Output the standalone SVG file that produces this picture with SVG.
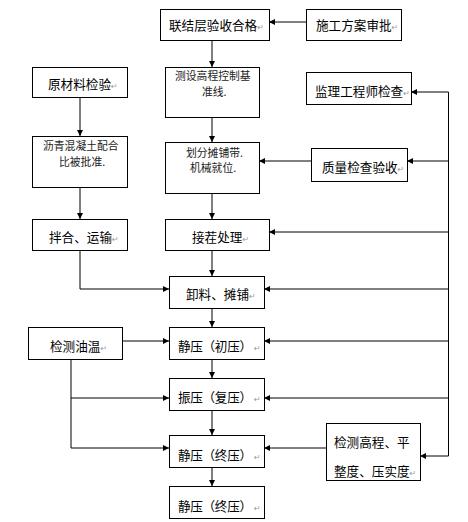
<svg xmlns="http://www.w3.org/2000/svg" width="468" height="522" viewBox="0 0 468 522">
<style>
.box{fill:#fff;stroke:#000;stroke-width:1}
.t{font-family:"Noto Sans CJK SC","Liberation Sans",sans-serif;font-size:12.6px;fill:#000}
.s{font-family:"Noto Sans CJK SC","Liberation Sans",sans-serif;font-size:10.8px;fill:#222}
.pm{font-family:"DejaVu Sans",sans-serif;font-size:8px;fill:#999}
.c{fill:none;stroke:#000;stroke-width:1}
</style>
<defs>
<marker id="ah" markerUnits="userSpaceOnUse" markerWidth="7" markerHeight="6" refX="6" refY="3" orient="auto">
<path d="M0,0 L6,3 L0,6 z" fill="#000"/>
</marker>
</defs>
<rect width="468" height="522" fill="#fff"/>
<g id="connectors">
<path class="c" d="M306,22 L269,22" marker-end="url(#ah)"/>
<path class="c" d="M212,40 L212,67" marker-end="url(#ah)"/>
<path class="c" d="M212,117 L212,142" marker-end="url(#ah)"/>
<path class="c" d="M212,193 L212,219" marker-end="url(#ah)"/>
<path class="c" d="M212,250 L212,276" marker-end="url(#ah)"/>
<path class="c" d="M212,308 L212,327" marker-end="url(#ah)"/>
<path class="c" d="M212,359 L212,378" marker-end="url(#ah)"/>
<path class="c" d="M212,410 L212,435" marker-end="url(#ah)"/>
<path class="c" d="M212,467 L212,486" marker-end="url(#ah)"/>
<path class="c" d="M80,97 L80,136" marker-end="url(#ah)"/>
<path class="c" d="M80,187 L80,219" marker-end="url(#ah)"/>
<path class="c" d="M80,250 L80,289 L169,289" marker-end="url(#ah)"/>
<path class="c" d="M122,341 L169,341" marker-end="url(#ah)"/>
<path class="c" d="M71,359 L71,448 L169,448" marker-end="url(#ah)"/>
<path class="c" d="M71,398 L169,398" marker-end="url(#ah)"/>
<path class="c" d="M448.5,92 L411,92" marker-end="url(#ah)"/>
<path class="c" d="M448.5,92 L448.5,456 L420,456" marker-end="url(#ah)"/>
<path class="c" d="M448.5,161 L407,161" marker-end="url(#ah)"/>
<path class="c" d="M311,161 L259,161" marker-end="url(#ah)"/>
<path class="c" d="M448.5,232 L269,232" marker-end="url(#ah)"/>
<path class="c" d="M448.5,289 L264,289" marker-end="url(#ah)"/>
<path class="c" d="M448.5,341 L264,341" marker-end="url(#ah)"/>
<path class="c" d="M448.5,398 L264,398" marker-end="url(#ah)"/>
<path class="c" d="M326,448 L264,448" marker-end="url(#ah)"/>
</g>
<g id="n1"><rect class="box" x="160.5" y="9.5" width="109" height="31"/><text class="t" x="169" y="30">联结层验收合格<tspan class="pm">↵</tspan></text></g>
<g id="n2"><rect class="box" x="306.5" y="9.5" width="95" height="31"/><text class="t" x="316" y="30">施工方案审批<tspan class="pm">↵</tspan></text></g>
<g id="n3"><rect class="box" x="165.5" y="67.5" width="94" height="50"/><text class="s" x="175" y="80">测设高程控制基</text><text class="s" x="202" y="96">准线.</text></g>
<g id="n4"><rect class="box" x="306.5" y="72.5" width="105" height="32"/><text class="t" x="315" y="96">监理工程师检查<tspan class="pm">↵</tspan></text></g>
<g id="n5"><rect class="box" x="32.5" y="67.5" width="95" height="30"/><text class="t" x="48" y="89">原材料检验<tspan class="pm">↵</tspan></text></g>
<g id="n6"><rect class="box" x="32.5" y="136.5" width="95" height="51"/><text class="s" x="43" y="150">沥青混凝土配合</text><text class="s" x="59" y="166">比被批准.</text></g>
<g id="n7"><rect class="box" x="165.5" y="142.5" width="94" height="51"/><text class="s" x="186" y="157">划分摊铺带.</text><text class="s" x="190" y="172">机械就位.</text></g>
<g id="n8"><rect class="box" x="311.5" y="148.5" width="96" height="33"/><text class="t" x="322" y="172">质量检查验收<tspan class="pm">↵</tspan></text></g>
<g id="n9"><rect class="box" x="32.5" y="219.5" width="95" height="31"/><text class="t" x="49" y="242">拌合、运输<tspan class="pm">↵</tspan></text></g>
<g id="n10"><rect class="box" x="165.5" y="219.5" width="104" height="31"/><text class="t" x="192" y="242">接茬处理<tspan class="pm">↵</tspan></text></g>
<g id="n11"><rect class="box" x="169.5" y="276.5" width="95" height="32"/><text class="t" x="186" y="299">卸料、摊铺<tspan class="pm">↵</tspan></text></g>
<g id="n12"><rect class="box" x="28.5" y="327.5" width="94" height="32"/><text class="t" x="50" y="351">检测油温<tspan class="pm">↵</tspan></text></g>
<g id="n13"><rect class="box" x="169.5" y="327.5" width="95" height="32"/><text class="t" x="178" y="351" textLength="74">静压（初压）</text><text class="pm" x="254" y="351">↵</text></g>
<g id="n14"><rect class="box" x="169.5" y="378.5" width="95" height="32"/><text class="t" x="178" y="402" textLength="74">振压（复压）</text><text class="pm" x="254" y="402">↵</text></g>
<g id="n15"><rect class="box" x="169.5" y="435.5" width="95" height="32"/><text class="t" x="178" y="460" textLength="74">静压（终压）</text><text class="pm" x="254" y="460">↵</text></g>
<g id="n16"><rect class="box" x="326.5" y="423.5" width="94" height="57"/><text class="t" x="334" y="447">检测高程、平</text><text class="t" x="334" y="476">整度、压实度<tspan class="pm">↵</tspan></text></g>
<g id="n17"><rect class="box" x="169.5" y="486.5" width="95" height="32"/><text class="t" x="178" y="511" textLength="74">静压（终压）</text><text class="pm" x="254" y="511">↵</text></g>
</svg>
